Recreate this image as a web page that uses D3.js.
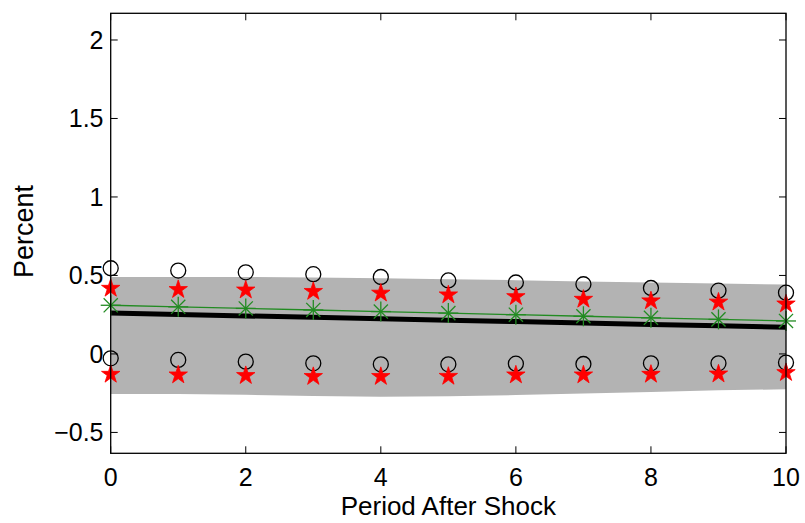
<!DOCTYPE html>
<html><head><meta charset="utf-8">
<script src="https://cdn.jsdelivr.net/npm/d3@7"></script>
<style>body{margin:0;background:#fff;} text{font-family:"Liberation Sans",Arial,sans-serif;}</style>
</head><body>
<svg id="c" width="805" height="523"></svg>
<script>
const periods = [0,1,2,3,4,5,6,7,8,9,10];
const bandUpper = [0.49,0.49,0.49,0.487,0.482,0.476,0.47,0.462,0.455,0.448,0.442];
const bandLower = [-0.255,-0.256,-0.26,-0.268,-0.273,-0.27,-0.262,-0.252,-0.242,-0.232,-0.225];
const median = [0.26,0.251,0.242,0.233,0.224,0.215,0.206,0.197,0.188,0.179,0.17];
const green = [0.31,0.30,0.29,0.28,0.27,0.26,0.25,0.24,0.23,0.22,0.21];
const circUpper = [0.546,0.531,0.52,0.508,0.49,0.468,0.455,0.444,0.42,0.403,0.39];
const circLower = [-0.028,-0.038,-0.049,-0.06,-0.066,-0.066,-0.062,-0.064,-0.06,-0.06,-0.055];
const starUpper = [0.418,0.41,0.407,0.398,0.387,0.376,0.365,0.348,0.338,0.33,0.318];
const starLower = [-0.13,-0.134,-0.138,-0.144,-0.144,-0.143,-0.134,-0.134,-0.13,-0.128,-0.119];
const xTicks = [0,2,4,6,8,10];
const yTicks = [-0.5,0,0.5,1,1.5,2];

const svg = d3.select("#c");
const L=110.7, R=786, T=13.3, B=453.3;
const x = d3.scaleLinear().domain([0,10]).range([L,R]);
const y = d3.scaleLinear().domain([-0.633,2.17]).range([B,T]);

svg.append("path")
  .datum(periods)
  .attr("d", d3.area().x(d=>x(d)).y0((d,i)=>y(bandLower[i])).y1((d,i)=>y(bandUpper[i])))
  .attr("fill","#b3b3b3").attr("stroke","none");

svg.append("path").datum(periods)
  .attr("d", d3.line().x(d=>x(d)).y((d,i)=>y(median[i])))
  .attr("fill","none").attr("stroke","#000").attr("stroke-width",5);

const gcol = "#228b22";
svg.append("path").datum(periods)
  .attr("d", d3.line().x(d=>x(d)).y((d,i)=>y(green[i])))
  .attr("fill","none").attr("stroke",gcol).attr("stroke-width",1.3);
const astR = 10;
periods.forEach((p,i)=>{
  const g = svg.append("g").attr("transform",`translate(${x(p)},${y(green[i])})`);
  [0,45,90,135].forEach(a=>{
    const r = a*Math.PI/180;
    g.append("line").attr("x1",-astR*Math.cos(r)).attr("y1",-astR*Math.sin(r))
      .attr("x2",astR*Math.cos(r)).attr("y2",astR*Math.sin(r))
      .attr("stroke",gcol).attr("stroke-width",1.3);
  });
});

[circUpper,circLower].forEach(arr=>{
  svg.selectAll(null).data(periods).enter().append("circle")
    .attr("cx",d=>x(d)).attr("cy",(d,i)=>y(arr[i])).attr("r",7.5)
    .attr("fill","none").attr("stroke","#000").attr("stroke-width",1.3);
});

const star = d3.symbol().type(d3.symbolStar).size(105);
[starUpper,starLower].forEach(arr=>{
  svg.selectAll(null).data(periods).enter().append("path")
    .attr("d",star)
    .attr("transform",(d,i)=>`translate(${x(d)},${y(arr[i])})`)
    .attr("fill","#ff0000").attr("stroke","#ff0000").attr("stroke-width",0.8);
});

svg.append("rect").attr("x",L).attr("y",T).attr("width",R-L).attr("height",B-T)
  .attr("fill","none").attr("stroke","#000").attr("stroke-width",1.3);
const tl=7;
xTicks.forEach(t=>{
  svg.append("line").attr("x1",x(t)).attr("x2",x(t)).attr("y1",B).attr("y2",B-tl).attr("stroke","#000").attr("stroke-width",1);
  svg.append("line").attr("x1",x(t)).attr("x2",x(t)).attr("y1",T).attr("y2",T+tl).attr("stroke","#000").attr("stroke-width",1);
  svg.append("text").attr("x",x(t)).attr("y",486).attr("text-anchor","middle")
    .attr("font-size",25).text(t);
});
yTicks.forEach(t=>{
  svg.append("line").attr("y1",y(t)).attr("y2",y(t)).attr("x1",L).attr("x2",L+tl).attr("stroke","#000").attr("stroke-width",1);
  svg.append("line").attr("y1",y(t)).attr("y2",y(t)).attr("x1",R).attr("x2",R-tl).attr("stroke","#000").attr("stroke-width",1);
  svg.append("text").attr("x",103.5).attr("y",y(t)).attr("dy","0.36em").attr("text-anchor","end")
    .attr("font-size",25).text(t<0 ? "\u2212"+Math.abs(t) : String(t));
});
svg.append("text").attr("x",x(5)).attr("y",515).attr("text-anchor","middle").attr("font-size",26).text("Period After Shock");
svg.append("text").attr("transform",`translate(33,231.5) rotate(-90)`).attr("text-anchor","middle").attr("font-size",27).text("Percent");
</script>
</body></html>
